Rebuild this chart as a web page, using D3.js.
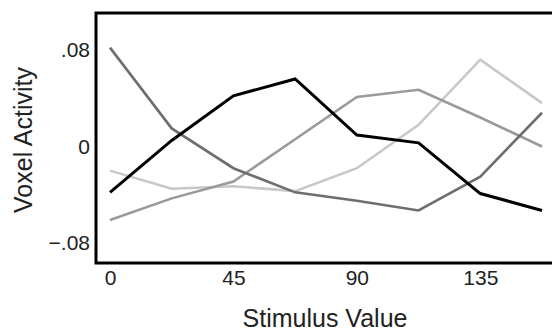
<!DOCTYPE html>
<html>
<head>
<meta charset="utf-8">
<script src="https://cdn.jsdelivr.net/npm/d3@7"></script>
<style>
  body { margin: 0; background: #fff; }
  svg { display: block; font-family: "Liberation Sans", Arial, sans-serif; }
</style>
</head>
<body>
<div id="chart"></div>
<script>
// stimulus values (deg)
const stimulus = [0, 22.5, 45, 67.5, 90, 112.5, 135, 157.5]

// voxel tuning curves
const voxelBlack = [-0.038, 0.005, 0.042, 0.056, 0.0095, 0.003, -0.039, -0.053]
const voxelDark  = [0.082, 0.015, -0.018, -0.038, -0.045, -0.053, -0.025, 0.028]
const voxelMid   = [-0.061, -0.043, -0.029, 0.006, 0.041, 0.047, 0.024, 0.0]
const voxelLight = [-0.020, -0.035, -0.033, -0.037, -0.018, 0.018, 0.072, 0.036]

const xTicks = [0, 45, 90, 135]
const yTicks = [-0.08, 0, 0.08]

const width = 552, height = 332
const margin = { top: 13, right: -10, bottom: 70, left: 96 }

const svg = d3.select("#chart")
    .append("svg")
    .attr("width", width)
    .attr("height", height)

const x = d3.scaleLinear()
    .domain([0, 157.5])
    .range([110, 542])

const y = d3.scaleLinear()
    .domain([-0.08, 0.08])
    .range([243, 50])

// series drawn from lightest to darkest so black sits on top
const series = [
    { values: voxelLight, colour: "#c8c8c8", w: 2.6 },
    { values: voxelMid,   colour: "#9a9a9a", w: 2.6 },
    { values: voxelDark,  colour: "#6e6e6e", w: 2.6 },
    { values: voxelBlack, colour: "#000000", w: 3 }
]

const line = d3.line()
    .x((d, i) => x(stimulus[i]))
    .y(d => y(d))

svg.append("g")
    .selectAll("path")
    .data(series)
    .join("path")
    .attr("d", d => line(d.values))
    .attr("fill", "none")
    .attr("stroke", d => d.colour)
    .attr("stroke-width", d => d.w)
    .attr("stroke-linejoin", "miter")

// box (right side runs off the page)
svg.append("rect")
    .attr("x", margin.left)
    .attr("y", margin.top)
    .attr("width", width - margin.left - margin.right)
    .attr("height", height - margin.top - margin.bottom + 1 - margin.top + 13)
    .attr("fill", "none")
    .attr("stroke", "#000")
    .attr("stroke-width", 3)

// x axis labels
const xAxis = svg.append("g")
    .attr("transform", `translate(0,${262})`)
    .call(d3.axisBottom(x)
        .tickValues(xTicks)
        .tickSize(0)
        .tickPadding(8)
        .tickFormat(d => d))
xAxis.select(".domain").remove()
xAxis.selectAll("text")
    .attr("font-size", 21)
    .attr("font-family", "Liberation Sans, Arial, sans-serif")
    .attr("fill", "#222")

// y axis labels
const fmtY = d => d === 0 ? "0" : d3.format(".2f")(d).replace("0.", ".")
const yAxis = svg.append("g")
    .attr("transform", `translate(${margin.left},0)`)
    .call(d3.axisLeft(y)
        .tickValues(yTicks)
        .tickSize(0)
        .tickPadding(6)
        .tickFormat(fmtY))
yAxis.select(".domain").remove()
yAxis.selectAll("text")
    .attr("font-size", 21)
    .attr("font-family", "Liberation Sans, Arial, sans-serif")
    .attr("fill", "#222")

// axis titles
svg.append("text")
    .attr("x", 325)
    .attr("y", 327)
    .attr("text-anchor", "middle")
    .attr("font-size", 25)
    .attr("fill", "#222")
    .text("Stimulus Value")

svg.append("text")
    .attr("transform", "translate(32,140) rotate(-90)")
    .attr("text-anchor", "middle")
    .attr("font-size", 25)
    .attr("fill", "#222")
    .text("Voxel Activity")
</script>
</body>
</html>
